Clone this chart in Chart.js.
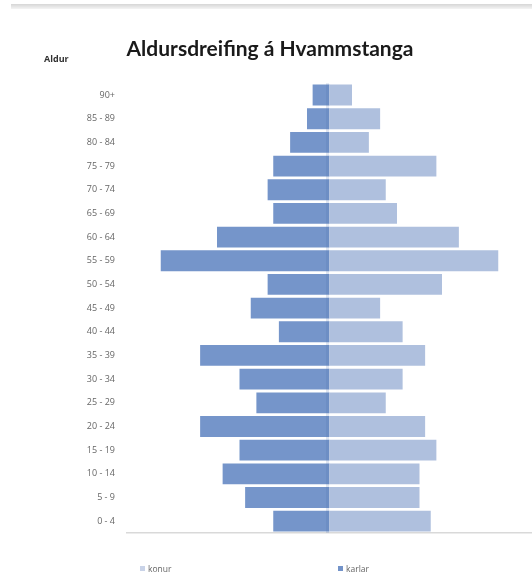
<!DOCTYPE html>
<html>
<head>
<meta charset="utf-8">
<script src="https://cdn.jsdelivr.net/npm/chart.js@4.4.1/dist/chart.umd.min.js"></script>
<style>
  html, body { margin: 0; padding: 0; background: #ffffff; }
  #wrap { position: relative; width: 532px; height: 579px; overflow: hidden; }
  #c { position: absolute; left: 0; top: 0; }
  #topbar { position: absolute; left: 11px; top: 4px; width: 521px; height: 5px;
            background: linear-gradient(#d6d6d6, #f4f4f4); }
  .lbl { position: absolute; font-family: "Open Sans", sans-serif; color: #555; }
  #aldur { left: 44px; top: 52px; font-size: 9px; font-weight: bold; color: #333; }
  .leg { top: 563px; font-size: 8.5px; color: #666; }
  .sw { display: inline-block; width: 5px; height: 5px; margin-right: 3px; vertical-align: 1px; }
</style>
</head>
<body>
<div id="wrap">
  <canvas id="c" width="532" height="579"></canvas>
  <div id="topbar"></div>
  <div class="lbl" id="aldur">Aldur</div>
  <div class="lbl leg" style="left:140px"><span class="sw" style="background:#c9d3e8"></span>konur</div>
  <div class="lbl leg" style="left:338px"><span class="sw" style="background:#7393c9"></span>karlar</div>
</div>
<script>
const categories = ["0 - 4","5 - 9","10 - 14","15 - 19","20 - 24","25 - 29","30 - 34","35 - 39","40 - 44","45 - 49","50 - 54","55 - 59","60 - 64","65 - 69","70 - 74","75 - 79","80 - 84","85 - 89","90+"];
const karlar = [10, 15, 19, 16, 23, 13, 16, 23, 9, 14, 11, 30, 20, 10, 11, 10, 7, 4, 3];
const konur  = [18, 16, 16, 19, 17, 10, 13, 17, 13, 9, 20, 30, 23, 12, 10, 19, 7, 9, 4];
const xMin = -36, xMax = 36;

const seam = {
  id: 'seam',
  afterDatasetsDraw(chart) {
    const ctx = chart.ctx, x = chart.scales.x.getPixelForValue(0), a = chart.chartArea;
    ctx.save();
    ctx.strokeStyle = 'rgba(80,110,170,0.18)';
    ctx.lineWidth = 3;
    ctx.beginPath();
    ctx.moveTo(x - 2, a.top);
    ctx.lineTo(x - 2, a.bottom);
    ctx.stroke();
    ctx.restore();
  }
};

new Chart(document.getElementById('c'), {
  type: 'bar',
  data: {
    labels: categories,
    datasets: [
      { label: 'konur', data: konur, backgroundColor: '#afc0de', borderWidth: 0,
        barPercentage: 0.88, categoryPercentage: 1 },
      { label: 'karlar', data: karlar.map(v => -v), backgroundColor: '#7595ca', borderWidth: 0,
        barPercentage: 0.88, categoryPercentage: 1 }
    ]
  },
  options: {
    indexAxis: 'y',
    responsive: false,
    animation: false,
    layout: { padding: { left: 8, right: 0, top: 0, bottom: 46 } },
    plugins: {
      legend: { display: false },
      tooltip: { enabled: false },
      title: {
        display: true,
        text: 'Aldursdreifing á Hvammstanga',
        font: { family: 'Lato', size: 21, weight: 'bold' },
        color: '#1a1a1a',
        padding: { top: 37, bottom: 21 }
      }
    },
    scales: {
      x: {
        stacked: true, min: xMin, max: xMax,
        ticks: { display: false },
        grid: { display: false, drawTicks: false },
        border: { display: true, color: '#d9d9d9', width: 1.5 }
      },
      y: {
        stacked: true, reverse: true,
        grid: { display: false, drawTicks: false },
        border: { display: false },
        ticks: { padding: 12, color: '#666', font: { family: 'Open Sans', size: 9 } },
        afterFit(scale) { scale.width = 119; }
      }
    }
  },
  plugins: [seam]
});
</script>
</body>
</html>
